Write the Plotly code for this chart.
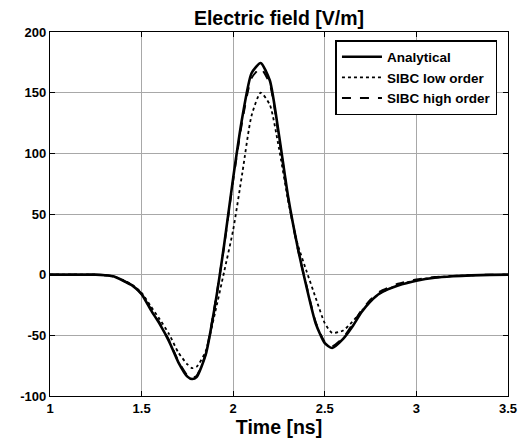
import plotly.graph_objects as go

time_ns = [1.0, 1.1, 1.2, 1.25, 1.3, 1.35, 1.4, 1.45, 1.5, 1.55, 1.6, 1.65, 1.7, 1.75, 1.775,
           1.8, 1.85, 1.9, 1.95, 2.0, 2.05, 2.1, 2.15, 2.2, 2.25, 2.3, 2.35, 2.4, 2.45,
           2.5, 2.54, 2.6, 2.65, 2.7, 2.75, 2.8, 2.9, 3.0, 3.1, 3.2, 3.3, 3.4, 3.5]

analytical = [0, 0, 0, 0, -0.5, -1.5, -5, -9, -16, -29, -41, -55, -72, -84, -86,
              -84.5, -66, -26, 24, 80, 130, 166, 174.5, 160, 115, 64, 24, -10, -40,
              -56.5, -60.5, -53, -43, -31, -22, -15.5, -9, -5, -2.5, -1.3, -0.6, -0.2, 0]

sibc_low = [0, 0, 0, 0, -0.5, -1.5, -4.5, -8.5, -15, -26, -37, -49, -64, -74, -77,
            -76, -63, -32, 2, 37, 84, 131, 150, 140, 104, 61, 26, 3, -19,
            -40, -48, -46, -39, -30, -22, -15.5, -8.5, -4.5, -2.3, -1.2, -0.5, -0.2, 0]

sibc_high = [0, 0, 0, 0, -0.5, -1.5, -5, -9, -16, -28, -40, -54, -71, -83, -85,
             -83.5, -65, -25, 23, 78, 127, 162, 170, 157, 113, 63, 23, -9, -39,
             -55.5, -59, -52, -41, -29.5, -20.5, -14, -7.5, -4, -2, -1, -0.4, -0.1, 0]

x_ticks = [1, 1.5, 2, 2.5, 3, 3.5]
x_tick_labels = ["1", "1.5", "2", "2.5", "3", "3.5"]
y_ticks = [-100, -50, 0, 50, 100, 150, 200]

font_family = "Arial, Liberation Sans, sans-serif"

fig = go.Figure()
fig.add_trace(go.Scatter(x=time_ns, y=analytical, mode="lines", name="<b>Analytical</b>",
                         line=dict(color="black", width=2.6, shape="spline", smoothing=0.6)))
fig.add_trace(go.Scatter(x=time_ns, y=sibc_low, mode="lines", name="<b>SIBC low order</b>",
                         line=dict(color="black", width=1.8, dash="dot", shape="spline", smoothing=0.6)))
fig.add_trace(go.Scatter(x=time_ns, y=sibc_high, mode="lines", name="<b>SIBC high order</b>",
                         line=dict(color="black", width=2.0, dash="dash", shape="spline", smoothing=0.6)))

axis_common = dict(
    showline=True, linecolor="black", linewidth=1.3, mirror="ticks",
    ticks="inside", ticklen=5, tickcolor="black", tickwidth=1,
    showgrid=True, gridcolor="#a8a8a8", gridwidth=1, zeroline=False,
    tickfont=dict(family=font_family, size=13, color="black"),
)

fig.update_layout(
    width=521, height=435,
    margin=dict(l=35, r=16.5, t=24, b=47),
    paper_bgcolor="white", plot_bgcolor="white",
    title=dict(text="<b>Electric field [V/m]</b>", x=0.5, xref="paper", y=1 - 10 / 435, yref="container",
               xanchor="center", yanchor="middle",
               font=dict(family=font_family, size=19.5, color="black")),
    xaxis=dict(range=[1, 3.5], tickvals=x_ticks, ticktext=["<b>%s</b>" % t for t in x_tick_labels],
               title=dict(text="<b>Time [ns]</b>", standoff=0,
                          font=dict(family=font_family, size=19.5, color="black")),
               **axis_common),
    yaxis=dict(range=[-100, 200], tickvals=y_ticks, ticktext=["<b>%d</b>" % v for v in y_ticks],
               **axis_common),
    legend=dict(x=0.977, y=0.978, xanchor="right", yanchor="top",
                bordercolor="black", borderwidth=1.5, bgcolor="white",
                font=dict(family=font_family, size=13.5, color="black"),
                tracegroupgap=0, itemwidth=40),
    showlegend=True,
)

fig.write_html("out.html")
